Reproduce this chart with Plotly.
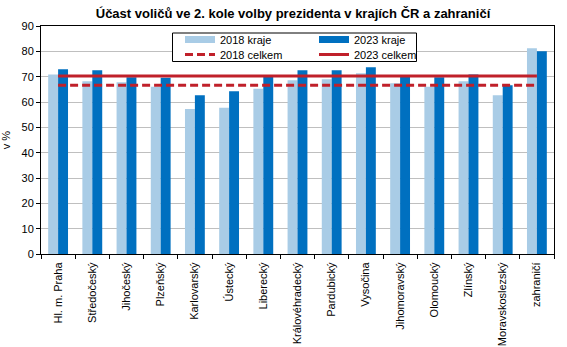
import plotly.graph_objects as go

# Turnout in the 2nd round of the presidential election by region (%)
regions = ["Hl. m. Praha", "Středočeský", "Jihočeský", "Plzeňský", "Karlovarský",
           "Ústecký", "Liberecký", "Královéhradecký", "Pardubický", "Vysočina",
           "Jihomoravský", "Olomoucký", "Zlínský", "Moravskoslezský", "zahraničí"]
turnout_2018 = [70.9, 68.2, 67.8, 66.0, 57.2, 57.7, 65.2, 68.6, 69.0, 71.3,
                67.4, 66.0, 68.2, 62.7, 81.2]
turnout_2023 = [72.9, 72.5, 69.8, 69.6, 62.7, 64.2, 69.9, 72.5, 72.5, 73.7,
                70.0, 69.8, 70.9, 66.6, 80.0]
total_2018 = 66.6
total_2023 = 70.25

LIGHT = "#a9cce6"
DARK = "#0070c0"
RED = "#c0202a"
FONT = "Liberation Sans, Arial, sans-serif"

W, H = 567, 347
ml, mr, mt, mb = 41, 13, 26, 93
pw, ph = W - ml - mr, H - mt - mb


def px_x(x):
    return (x - ml) / pw


def px_y(y):
    return (H - mb - y) / ph


fig = go.Figure()

# regional bars
fig.add_bar(x=regions, y=turnout_2018, name="2018 kraje", marker_color=LIGHT,
            marker_line_width=0, showlegend=False)
fig.add_bar(x=regions, y=turnout_2023, name="2023 kraje", marker_color=DARK,
            marker_line_width=0, showlegend=False)

# national totals as horizontal reference lines
fig.add_scatter(x=regions, y=[total_2018] * len(regions), mode="lines",
                line=dict(color=RED, width=3, dash="8px,4px"),
                name="2018 celkem", showlegend=False)
fig.add_scatter(x=regions, y=[total_2023] * len(regions), mode="lines",
                line=dict(color=RED, width=3),
                name="2023 celkem", showlegend=False)

# legend keys: a 2x2 grid, one single-entry legend per cell
keys = [
    ("2018 kraje", dict(color=LIGHT, width=7), "legend", 180, 39.5),
    ("2023 kraje", dict(color=DARK, width=7), "legend2", 314, 39.5),
    ("2018 celkem", dict(color=RED, width=3, dash="8px,4px"), "legend3", 180, 54.5),
    ("2023 celkem", dict(color=RED, width=3), "legend4", 314, 54.5),
]
legend_style = dict(bgcolor="rgba(0,0,0,0)", borderwidth=0,
                    font=dict(family=FONT, size=11, color="black"),
                    xanchor="left", yanchor="middle", orientation="v",
                    itemclick=False, itemdoubleclick=False)
legends = {}
for name, line, leg, lx, ly in keys:
    fig.add_scatter(x=[None], y=[None], mode="lines", line=line, name=name,
                    legend=leg, hoverinfo="skip")
    legends[leg] = dict(x=px_x(lx), y=px_y(ly), **legend_style)

fig.update_layout(
    width=W, height=H,
    margin=dict(l=ml, r=mr, t=mt, b=mb, autoexpand=False),
    paper_bgcolor="white", plot_bgcolor="white",
    barmode="group", bargap=0.42, bargroupgap=0,
    font=dict(family=FONT, size=11, color="black"),
    title=dict(text="<b>Účast voličů ve 2. kole volby prezidenta v krajích ČR a zahraničí</b>",
               x=293 / W, xanchor="center", y=1 - 13 / H, yanchor="middle",
               font=dict(family=FONT, size=13, color="black")),
    shapes=[dict(type="rect", xref="paper", yref="paper",
                 x0=px_x(172.5), x1=px_x(416.5), y0=px_y(61.5), y1=px_y(33),
                 line=dict(color="black", width=1), fillcolor="white",
                 layer="above")],
    xaxis=dict(showline=True, linecolor="black", linewidth=1, mirror=True,
               ticks="outside", ticklen=4, tickcolor="black", tickson="boundaries",
               tickangle=-90, showgrid=False, automargin=False,
               ticklabelstandoff=3,
               tickfont=dict(family=FONT, size=11, color="black")),
    yaxis=dict(range=[0, 90], dtick=10, showline=True, linecolor="black",
               linewidth=1, mirror=True, ticks="outside", ticklen=4,
               tickcolor="black", showgrid=True, gridcolor="#bfbfbf",
               gridwidth=1, zeroline=False, automargin=False,
               tickfont=dict(family=FONT, size=11, color="black"),
               title=dict(text="v %", standoff=8,
                          font=dict(family=FONT, size=11, color="black"))),
    **legends,
)

fig.write_html("out.html")
